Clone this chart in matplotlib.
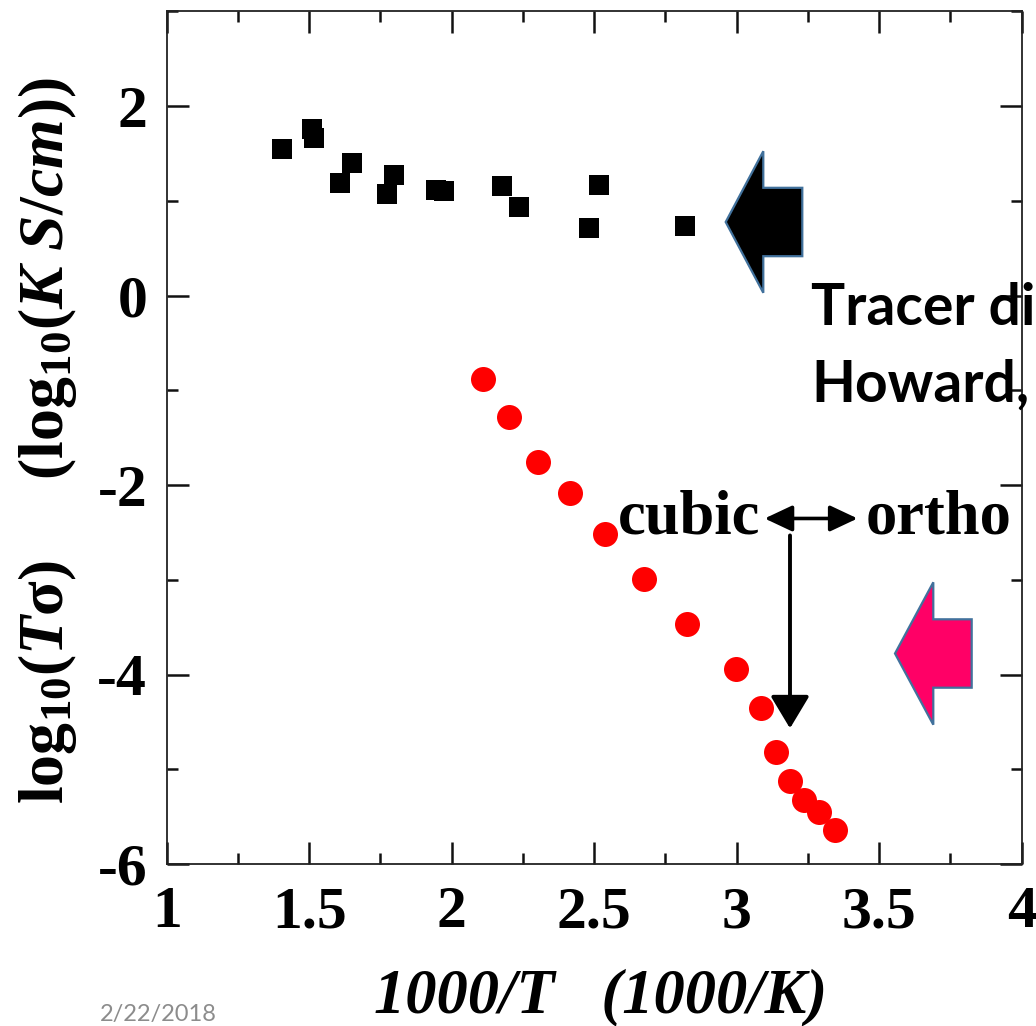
import numpy as np
import matplotlib
matplotlib.use('Agg')
import matplotlib.pyplot as plt
from matplotlib.patches import Polygon
from matplotlib.ticker import MultipleLocator, FormatStrFormatter

# Tracer diffusion data (black squares): 1000/T vs log10(K S/cm)
tracer_x = [1.405, 1.509, 1.517, 1.649, 1.608, 1.798, 1.772, 1.944, 1.973,
            2.178, 2.236, 2.517, 2.482, 2.818]
tracer_y = [1.548, 1.756, 1.661, 1.397, 1.186, 1.274, 1.073, 1.116, 1.108,
            1.161, 0.939, 1.168, 0.711, 0.739]

# Conductivity data (red circles): 1000/T vs log10(T sigma)
cond_x = [2.109, 2.202, 2.304, 2.416, 2.539, 2.675, 2.826, 2.998, 3.085,
          3.138, 3.187, 3.237, 3.290, 3.345]
cond_y = [-0.879, -1.277, -1.752, -2.085, -2.515, -2.987, -3.46, -3.945, -4.355,
          -4.813, -5.119, -5.322, -5.446, -5.639]

# cubic <-> ortho transition
trans_x = 3.187
trans_top = -2.53
trans_tip = -4.566
arrow_left = 3.098
arrow_right = 3.424
arrow_y = -2.351
text_y = -2.512

matplotlib.rcParams['axes.unicode_minus'] = False
matplotlib.rcParams['mathtext.fontset'] = 'custom'
matplotlib.rcParams['mathtext.rm'] = 'Liberation Serif:bold'
matplotlib.rcParams['mathtext.it'] = 'Liberation Serif:italic:bold'
matplotlib.rcParams['mathtext.bf'] = 'Liberation Serif:bold'
matplotlib.rcParams['mathtext.default'] = 'rm'

W, H = 1036, 1026
fig = plt.figure(figsize=(W / 100, H / 100), dpi=100)
ax = fig.add_axes([0.1609, 0.1577, 0.8253, 0.8311])

ax.plot(tracer_x, tracer_y, 's', color='black', markersize=15, markeredgewidth=0)
ax.plot(cond_x, cond_y, 'o', color='#ff0000', markersize=18, markeredgewidth=0)

ax.set_xlim(1, 4)
ax.set_ylim(-6, 3)
ax.xaxis.set_major_locator(MultipleLocator(0.5))
ax.xaxis.set_minor_locator(MultipleLocator(0.25))
ax.yaxis.set_major_locator(MultipleLocator(2))
ax.yaxis.set_minor_locator(MultipleLocator(1))
ax.xaxis.set_major_formatter(FormatStrFormatter('%g'))
ax.yaxis.set_major_formatter(FormatStrFormatter('%g'))

ax.tick_params(which='both', direction='in', top=True, right=True, width=1.8, color='#111111')
ax.tick_params(which='major', length=16)
ax.tick_params(which='minor', length=8)
ax.tick_params(axis='x', which='major', pad=16)
ax.tick_params(axis='y', which='major', pad=14)
for lab in ax.get_xticklabels() + ax.get_yticklabels():
    lab.set_family('Liberation Serif')
    lab.set_weight('bold')
    lab.set_fontsize(43)
for sp in ax.spines.values():
    sp.set_linewidth(1.3)
    sp.set_color('#222222')

ax.set_xlabel('1000/T   (1000/K)', family='Liberation Serif', weight='bold',
              style='italic', fontsize=45)
ax.xaxis.set_label_coords(0.507, -0.122)
ax.set_ylabel(r'log$_{10}$($\mathit{T}$σ)     (log$_{10}$($\mathit{K}$ $\mathit{S/cm}$))',
              family='Liberation Serif', weight='bold', fontsize=46)
ax.yaxis.set_label_coords(-0.103, 0.497)

#transition arrows and labels
ax.annotate('', xy=(trans_x, trans_tip), xytext=(trans_x, trans_top),
            arrowprops=dict(arrowstyle='-|>,head_length=1.0,head_width=0.6',
                            mutation_scale=20, lw=2.8, color='black',
                            shrinkA=0, shrinkB=0))
ax.annotate('', xy=(arrow_right, arrow_y), xytext=(arrow_left, arrow_y),
            arrowprops=dict(arrowstyle='<|-|>,head_length=0.85,head_width=0.4',
                            mutation_scale=20, lw=2.6, color='black',
                            shrinkA=0, shrinkB=0))
ax.text(arrow_left - 0.015, text_y, 'cubic', ha='right', va='baseline',
        family='Liberation Serif', weight='bold', fontsize=45)
ax.text(arrow_right + 0.03, text_y, 'ortho', ha='left', va='baseline',
        family='Liberation Serif', weight='bold', fontsize=45)


def block_arrow(tip_x, tip_y, head_x, head_half, shaft_half, tail_x, fill):
    # left-pointing block arrow, coordinates in pixels from the top-left
    pts = [(tip_x, tip_y), (head_x, tip_y - head_half), (head_x, tip_y - shaft_half),
           (tail_x, tip_y - shaft_half), (tail_x, tip_y + shaft_half),
           (head_x, tip_y + shaft_half), (head_x, tip_y + head_half)]
    pts = [(x / W, 1 - y / H) for x, y in pts]
    fig.add_artist(Polygon(pts, closed=True, facecolor=fill, edgecolor='#41719C',
                           linewidth=1.6, transform=fig.transFigure, zorder=5))


block_arrow(725.7, 222.0, 763.3, 70.8, 34.2, 802.3, 'black')
block_arrow(895.0, 653.5, 933.3, 71.2, 34.2, 971.7, '#ff0066')

fig.text(811 / W, 1 - 325 / H, 'Tracer di', family='Lato', weight='bold',
         fontsize=41, ha='left', va='baseline', zorder=6)
fig.text(811 / W, 1 - 401.7 / H, 'Howard,', family='Lato', weight='bold',
         fontsize=41, ha='left', va='baseline', zorder=6)
fig.text(100 / W, 1 - 1021 / H, '2/22/2018', family='Lato', color='#8c8c8c',
         fontsize=17, ha='left', va='baseline')

fig.savefig('out.png', dpi=100)
